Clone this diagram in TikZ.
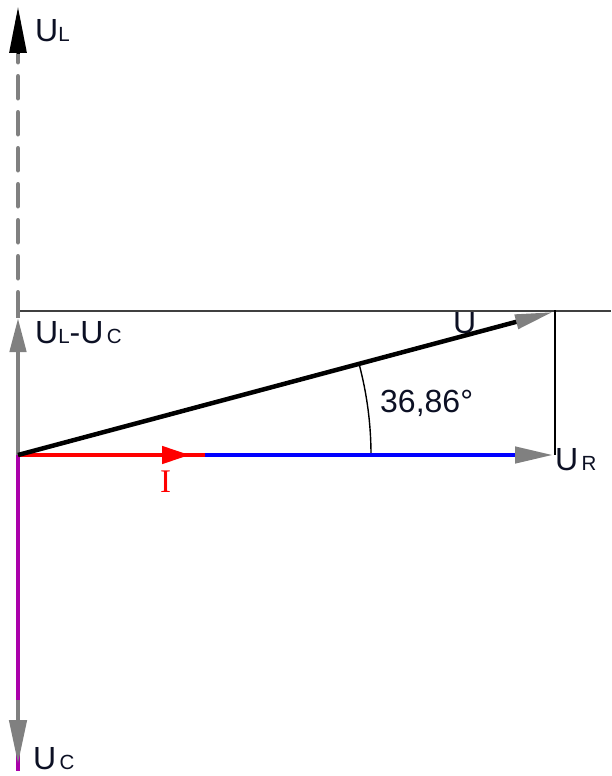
\documentclass[tikz,border=0pt]{standalone}
\usepackage{fontspec}
\setmainfont{Liberation Sans}
\newfontfamily\serifI{Liberation Serif}
\usetikzlibrary{arrows.meta}
\definecolor{txt}{RGB}{12,16,36}
\definecolor{arrgray}{RGB}{128,128,128}
\definecolor{purp}{RGB}{170,0,170}
\newcommand\bigfs{\fontsize{32}{32}\selectfont}
\newcommand\smlfs{\fontsize{20.5}{20.5}\selectfont}
\tikzset{
  lbl/.style={anchor=base west, inner sep=0pt, text=txt, font=\bigfs},
  thickln/.style={line width=4.5pt},
  grayhead/.style={-{Triangle[length=38pt,width=16pt,color=arrgray]}},
  thinln/.style={line width=1.6pt}
}
\begin{document}
\begin{tikzpicture}[x=1pt,y=-1pt]
\useasboundingbox[fill=white] (0,0) rectangle (611,776);
% coordinates
\coordinate (O) at (18,455);
\coordinate (ULtop) at (18,53);
\coordinate (ULbase) at (18,54);
\coordinate (ULtip) at (18,7);
\coordinate (LCtip) at (18,318);
\coordinate (UCend) at (18,771);
\coordinate (UCtip) at (18,764);
\coordinate (UCpre) at (18,700);
\coordinate (Ired) at (205,455);
\coordinate (Itip) at (190,455);
\coordinate (URend) at (553,455);
\coordinate (Uend) at (553,312);
\coordinate (Tleft) at (18,311);
\coordinate (Tright) at (611,311);
\coordinate (Vtop) at (555,310);
\coordinate (Vbot) at (555,455);
\coordinate (ArcStart) at (371,455);
% labels behind
\node[lbl] (lU) at (453,333) {U};
% thin helper lines
\draw[thinln, draw={rgb,255:red,64;green,64;blue,64}] (Tleft) -- (Tright);
\draw[thinln, black] (Vtop) -- (Vbot);
% angle arc
\draw[line width=1.4pt, black] (ArcStart) arc[start angle=0, end angle=-15.0, radius=353];
% U_L dashed
\draw[thickln, arrgray, line cap=round, dash pattern=on 22pt off 14pt, dash phase=12.75pt] (ULtop) -- (O);
\draw[black, -{Triangle[length=46pt,width=17pt]}, line width=3pt] (ULbase) -- (ULtip);
% U_L - U_C
\draw[thickln, arrgray, -{Triangle[length=34pt,width=16pt]}] (O) -- (LCtip);
\draw[thickln, arrgray] (LCtip) -- (Tleft);
% U_C
\draw[thickln, purp] (O) -- (UCend);
\draw[thickln, arrgray, -{Triangle[length=44pt,width=17pt]}] (UCpre) -- (UCtip);
\draw[line width=3pt, purp] (UCtip) -- (UCend);
% U_R blue and I red
\draw[thickln, blue, grayhead] (Ired) -- (URend);
\draw[thickln, red] (O) -- (Ired);
\draw[thickln, red, -{Triangle[length=28pt,width=17pt]}] (O) -- (Itip);
% U
\draw[thickln, black, -{Triangle[length=38pt,width=14pt,color=arrgray]}] (O) -- (Uend);
% labels
\node[lbl] (lUL) at (35,42) {U\smlfs L};
\node[lbl] (lULUC) at (35,343) {U\smlfs L\bigfs -U\smlfs\,C};
\node[lbl] (lang) at (380,412) {36,86°};
\node[lbl, text=red, font=\serifI\fontsize{33}{33}\selectfont] (lI) at (160,492) {I};
\node[lbl] (lUR) at (555,470) {U\smlfs\,R};
\node[lbl] (lUC) at (33,769) {U\smlfs\,C};
\end{tikzpicture}
\end{document}
